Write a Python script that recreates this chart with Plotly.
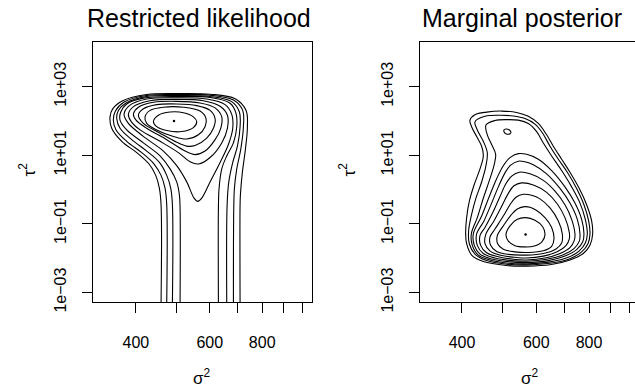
import plotly.graph_objects as go

W, H = 635, 391

# ---------------- Restricted likelihood: contour lines (sigma^2, tau^2) ----------------
# open contours (run off the bottom of the plot)
rl_c1_sigma2 = [459.3, 459.3, 455.1, 446.1, 430.0, 401.9, 370.1, 350.3, 347.1, 352.2, 372.1, 424.5,
                500.5, 601.0, 689.5, 732.3, 737.7, 729.6, 717.7, 709.9, 708.6, 708.6]
rl_c1_tau2 = [0.0005, 0.365, 1.09, 2.60, 5.57, 12.0, 25.6, 61.4, 132, 227, 392, 593,
              633, 606, 446, 204, 68.4, 14.9, 3.23, 0.702, 0.365, 0.0005]
rl_c2_sigma2 = [473.8, 473.8, 469.5, 459.3, 442.0, 413.0, 380.4, 358.8, 353.5, 357.5, 374.9, 424.5,
                500.5, 601.0, 683.2, 718.9, 721.7, 711.2, 695.8, 687.0, 684.5, 683.2]
rl_c2_tau2 = [0.0005, 0.365, 1.09, 2.60, 5.57, 12.0, 25.6, 55.0, 106, 195, 359, 555,
              593, 567, 409, 204, 68.4, 14.9, 4.02, 1.09, 0.294, 0.0005]
rl_c3_sigma2 = [488.8, 488.8, 484.4, 473.8, 455.1, 424.5, 391.0, 366.7, 360.1, 363.4, 379.0, 424.5,
                500.5, 601.0, 677.0, 706.0, 708.6, 698.4, 680.7, 666.1, 660.0, 658.6]
rl_c3_tau2 = [0.0005, 0.365, 1.09, 2.60, 6.22, 13.3, 28.6, 61.4, 118, 204, 336, 520,
              555, 520, 367, 183, 68.4, 18.5, 6.22, 1.68, 0.365, 0.0005]
rl_c4_sigma2 = [509.8, 509.8, 507.9, 500.5, 482.6, 456.8, 416.8, 380.4, 366.7, 368.1, 380.4, 416.8,
                500.5, 601.0, 670.8, 693.3, 695.8, 683.2, 658.6, 640.8, 631.5, 629.2, 629.2]
rl_c4_tau2 = [0.0005, 0.294, 0.702, 1.68, 4.02, 9.61, 23.0, 55.0, 106, 183, 315, 466,
              520, 487, 329, 164, 68.4, 23.0, 9.61, 4.02, 1.09, 0.294, 0.0005]
# closed contours
rl_c5_sigma2 = [374.9, 386.0, 424.5, 500.5, 590.1, 652.6, 676.9, 680.7, 664.7, 635.0, 601.0, 574.2,
                561.7, 550.5, 528.8, 500.5, 465.2, 416.8, 383.9]
rl_c5_tau2 = [157, 282, 437, 476, 437, 301, 157, 61.4, 20.6, 6.22, 1.68, 0.565,
              0.454, 0.565, 1.68, 5.00, 13.3, 35.6, 85.1]
rl_c6_sigma2 = [383.9, 394.6, 432.4, 500.5, 579.5, 635.0, 661.0, 661.0, 640.8, 601.0, 563.8, 538.5,
                505.1, 456.8, 409.3, 388.8]
rl_c6_tau2 = [157, 264, 392, 427, 392, 270, 147, 61.4, 23.0, 8.62, 5.57, 6.49,
              12.0, 25.6, 55.0, 101]
rl_c7_sigma2 = [394.6, 405.6, 440.4, 500.5, 569.0, 617.8, 640.8, 637.3, 617.8, 584.8, 553.5, 524.0,
                473.8, 424.5, 400.4]
rl_c7_tau2 = [157, 253, 351, 375, 336, 242, 132, 61.4, 28.6, 13.3, 10.5, 13.3,
              28.6, 61.4, 106]
rl_c8_sigma2 = [405.6, 416.8, 448.5, 500.5, 558.6, 601.0, 617.8, 612.1, 590.1, 553.5, 528.8, 500.5,
                456.8, 416.8]
rl_c8_tau2 = [147, 227, 301, 315, 282, 204, 118, 61.4, 31.9, 19.3, 18.5, 24.0,
              44.3, 85.1]
rl_c9_sigma2 = [420.6, 432.4, 465.2, 519.2, 569.0, 587.9, 584.8, 563.8, 528.8, 491.5, 448.5, 424.5]
rl_c9_tau2 = [132, 204, 253, 253, 195, 118, 68.4, 39.7, 29.9, 35.6, 55.0, 85.1]
rl_c10_sigma2 = [440.4, 452.6, 482.6, 519.2, 548.5, 558.6, 548.5, 514.5, 473.8, 448.5]
rl_c10_tau2 = [94.9, 147, 183, 175, 132, 94.9, 64.1, 49.3, 52.7, 68.4]
rl_mode_sigma2 = [493]
rl_mode_tau2 = [101]

# ---------------- Marginal posterior: contour lines (sigma^2, tau^2) ----------------
mp_c1_sigma2 = [417.8, 421.6, 433.3, 445.3, 449.4, 441.3, 427.1, 416.3, 410.3, 408.1, 410.3, 421.6,
                449.4, 510.4, 569.3, 646.6, 721.1, 775.5, 804.3, 816.1, 811.6, 789.8, 758.8, 721.1,
                689.1, 658.5, 634.9, 606.7, 574.5, 539.0, 496.7, 457.6, 429.4]
mp_c1_tau2 = [106, 68.3, 35.5, 18.4, 9.58, 4.00, 1.34, 0.451, 0.152, 0.0509, 0.0264, 0.0123,
              0.00796, 0.00613, 0.00587, 0.00640, 0.00888, 0.0137, 0.0237, 0.0509, 0.122, 0.363, 1.08, 3.22,
              7.70, 18.4, 39.6, 84.9, 137, 178, 195, 182, 153]
mp_c2_sigma2 = [429.4, 434.9, 449.4, 459.3, 455.9, 445.3, 431.7, 421.6, 414.8, 416.3, 429.4, 457.6,
                510.4, 569.3, 646.6, 721.1, 768.5, 795.6, 804.3, 798.5, 778.3, 747.8, 710.7, 676.7,
                646.6, 621.3, 595.8, 564.2, 529.3, 492.2, 453.5]
mp_c2_tau2 = [94.7, 54.9, 25.6, 11.9, 4.98, 1.67, 0.561, 0.188, 0.0633, 0.0264, 0.0132, 0.00850,
              0.00668, 0.00640, 0.00714, 0.00969, 0.0153, 0.0264, 0.0509, 0.122, 0.363, 1.08, 3.22, 7.70,
              18.4, 44.1, 81.3, 118, 140, 147, 137]
mp_c3_sigma2 = [455.9, 459.3, 470.3, 480.7, 477.2, 466.0, 449.4, 434.9, 420.9, 423.2, 437.3, 466.0,
                515.1, 569.3, 646.6, 714.6, 758.8, 784.0, 792.7, 784.0, 761.6, 727.7, 689.1, 652.5,
                623.5, 601.2, 574.5, 544.0, 510.4, 479.0]
mp_c3_tau2 = [76.1, 39.6, 20.6, 10.7, 5.55, 2.08, 0.561, 0.152, 0.0509, 0.0237, 0.0123, 0.00888,
              0.00714, 0.00683, 0.00779, 0.0106, 0.0164, 0.0276, 0.0509, 0.136, 0.404, 1.20, 3.59, 9.58,
              22.9, 49.2, 84.9, 106, 110, 103]
mp_upper_sigma2 = [503.0, 508.6, 517.9, 522.6, 519.8, 512.3, 504.9]
mp_upper_tau2 = [54.9, 58.6, 54.9, 47.1, 42.3, 41.3, 45.1]
mp_c4_sigma2 = [544.0, 519.8, 501.2, 483.3, 464.3, 445.3, 425.5, 427.8, 441.3, 470.3, 519.8, 569.3,
                640.7, 701.7, 747.8, 772.7, 778.3, 768.5, 741.0, 701.7, 652.5, 606.7, 569.3]
mp_c4_tau2 = [11.2, 8.59, 4.98, 2.08, 0.626, 0.169, 0.0509, 0.0237, 0.0132, 0.00948, 0.00779, 0.00746,
              0.00850, 0.0115, 0.0178, 0.0295, 0.0509, 0.136, 0.404, 1.20, 3.59, 7.70, 10.7]
mp_c5_sigma2 = [544.0, 521.7, 505.8, 487.8, 470.3, 451.0, 433.3, 434.9, 449.4, 479.0, 524.6, 569.3,
                634.9, 695.3, 737.0, 758.8, 761.6, 750.5, 721.1, 682.9, 634.9, 590.4, 564.2]
mp_c5_tau2 = [6.75, 5.20, 3.08, 1.20, 0.404, 0.122, 0.0509, 0.0237, 0.0137, 0.0101, 0.00850, 0.00814,
              0.00928, 0.0126, 0.0191, 0.0315, 0.0509, 0.136, 0.404, 1.08, 2.88, 5.31, 6.47]
mp_c6_sigma2 = [547.0, 524.6, 508.6, 492.2, 472.9, 453.5, 441.3, 442.9, 457.6, 487.8, 529.3, 569.3,
                629.2, 682.9, 721.1, 738.3, 741.0, 727.7, 701.7, 664.5, 623.5, 579.7]
mp_c6_tau2 = [3.22, 2.47, 1.50, 0.626, 0.210, 0.0787, 0.0456, 0.0237, 0.0144, 0.0110, 0.00928, 0.00888,
              0.0101, 0.0137, 0.0203, 0.0329, 0.0509, 0.136, 0.363, 0.907, 1.86, 2.88]
mp_c7_sigma2 = [554.0, 531.2, 515.1, 496.7, 476.3, 455.9, 453.5, 466.0, 494.0, 534.1, 569.3, 623.5,
                674.3, 705.5, 718.5, 718.5, 701.7, 673.1, 634.9, 592.6]
mp_c7_tau2 = [1.57, 1.29, 0.778, 0.325, 0.122, 0.0509, 0.0264, 0.0164, 0.0121, 0.0106, 0.0101, 0.0115,
              0.0157, 0.0232, 0.0367, 0.0567, 0.152, 0.379, 0.831, 1.34]
mp_c8_sigma2 = [559.0, 537.1, 519.8, 501.2, 479.0, 466.0, 467.7, 483.3, 515.1, 569.3, 623.5, 668.2,
                689.1, 691.6, 676.7, 646.6, 612.3, 585.0]
mp_c8_tau2 = [0.729, 0.599, 0.363, 0.169, 0.0706, 0.0409, 0.0237, 0.0157, 0.0129, 0.0123, 0.0137, 0.0186,
              0.0276, 0.0509, 0.122, 0.292, 0.537, 0.683]
mp_c9_sigma2 = [564.2, 541.0, 522.6, 501.2, 485.1, 486.0, 501.2, 534.1, 574.5, 623.5, 652.5, 660.9,
                652.5, 629.2, 601.2, 579.7]
mp_c9_tau2 = [0.318, 0.273, 0.180, 0.0878, 0.0456, 0.0264, 0.0182, 0.0153, 0.0147, 0.0164, 0.0222, 0.0367,
              0.0787, 0.152, 0.245, 0.305]
mp_c10_sigma2 = [508.6, 519.8, 541.0, 566.2, 595.8, 621.3, 629.2, 617.9, 590.4, 564.2, 534.1, 515.1]
mp_c10_tau2 = [0.0487, 0.0878, 0.136, 0.152, 0.127, 0.0822, 0.0487, 0.0295, 0.0222, 0.0213, 0.0232, 0.0315]
mp_mode_sigma2 = [566]
mp_mode_tau2 = [0.0487]

# ---------------- axes ----------------
panel_titles = ["Restricted likelihood", "Marginal posterior"]
x_tick_vals = [400, 500, 600, 700, 800, 900, 1000]
x_tick_text = ["400", "", "600", "", "800", "", ""]
y_tick_vals = [1e-3, 1e-1, 1e1, 1e3]
y_tick_text = ["1e\u221203", "1e\u221201", "1e+01", "1e+03"]

rl_open = [(rl_c1_sigma2, rl_c1_tau2), (rl_c2_sigma2, rl_c2_tau2),
           (rl_c3_sigma2, rl_c3_tau2), (rl_c4_sigma2, rl_c4_tau2)]
rl_closed = [(rl_c5_sigma2, rl_c5_tau2), (rl_c6_sigma2, rl_c6_tau2), (rl_c7_sigma2, rl_c7_tau2),
             (rl_c8_sigma2, rl_c8_tau2), (rl_c9_sigma2, rl_c9_tau2), (rl_c10_sigma2, rl_c10_tau2)]
mp_closed = [(mp_c1_sigma2, mp_c1_tau2), (mp_c2_sigma2, mp_c2_tau2), (mp_c3_sigma2, mp_c3_tau2),
             (mp_upper_sigma2, mp_upper_tau2), (mp_c4_sigma2, mp_c4_tau2), (mp_c5_sigma2, mp_c5_tau2),
             (mp_c6_sigma2, mp_c6_tau2), (mp_c7_sigma2, mp_c7_tau2), (mp_c8_sigma2, mp_c8_tau2),
             (mp_c9_sigma2, mp_c9_tau2), (mp_c10_sigma2, mp_c10_tau2)]

LINE = dict(color="black", width=1.1, shape="spline", smoothing=1.0)
fig = go.Figure()


def add_line(xs, ys, xa, ya, closed):
    if closed:
        xs = list(xs) + [xs[0]]
        ys = list(ys) + [ys[0]]
    fig.add_trace(go.Scatter(x=xs, y=ys, mode="lines", line=LINE, xaxis=xa, yaxis=ya,
                             hoverinfo="skip", showlegend=False))


for s, t in rl_open:
    add_line(s, t, "x", "y", False)
for s, t in rl_closed:
    add_line(s, t, "x", "y", True)
for s, t in mp_closed:
    add_line(s, t, "x2", "y2", True)

fig.add_trace(go.Scatter(x=rl_mode_sigma2, y=rl_mode_tau2, mode="markers", xaxis="x", yaxis="y",
                         marker=dict(color="black", size=2.5), hoverinfo="skip", showlegend=False))
fig.add_trace(go.Scatter(x=mp_mode_sigma2, y=mp_mode_tau2, mode="markers", xaxis="x2", yaxis="y2",
                         marker=dict(color="black", size=2.5), hoverinfo="skip", showlegend=False))

FONT = "Liberation Sans, Arial, Helvetica, sans-serif"


def px_x(p):
    return p / W


def px_y(p):
    return 1 - p / H


ydom = [px_y(310), px_y(42.7)]
common_x = dict(type="log", tickvals=x_tick_vals, ticktext=x_tick_text, ticks="outside", ticklen=10,
                tickwidth=1, tickcolor="black", showline=True, linecolor="black", linewidth=1,
                showgrid=False, zeroline=False, mirror=True, ticklabelstandoff=16,
                tickfont=dict(family=FONT, size=16, color="black"))
common_y = dict(type="log", range=[-3.28, 4.316], tickvals=y_tick_vals, ticktext=y_tick_text,
                tickangle=-90, ticks="outside", ticklen=10, tickwidth=1, tickcolor="black",
                showline=True, linecolor="black", linewidth=1, showgrid=False, zeroline=False,
                ticklabelstandoff=10,
                tickfont=dict(family=FONT, size=16, color="black"), domain=ydom)

fig.update_layout(
    width=W, height=H, margin=dict(l=0, r=0, t=0, b=0),
    paper_bgcolor="white", plot_bgcolor="white", showlegend=False,
    xaxis=dict(common_x, domain=[px_x(93.3), px_x(311.7)], range=[2.5006, 3.0211], anchor="y"),
    yaxis=dict(common_y, anchor="x", mirror=True),
    xaxis2=dict(common_x, domain=[px_x(420.3), 1.0], range=[2.5033, 3.0121], anchor="y2"),
    yaxis2=dict(common_y, anchor="x2", mirror=False),
)

ann = []
# panel titles
for title, cx in zip(panel_titles, [199.5, 521.5]):
    ann.append(dict(text=title, x=px_x(cx), y=px_y(18.5), xref="paper", yref="paper",
                    xanchor="center", yanchor="middle", showarrow=False,
                    font=dict(family=FONT, size=25, color="black")))
# axis titles
for cx in [202, 530]:
    ann.append(dict(text="\u03c3<sup>2</sup>", x=px_x(cx), y=px_y(387), xref="paper", yref="paper",
                    xanchor="center", yanchor="middle", showarrow=False, borderpad=0,
                    font=dict(family=FONT, size=17, color="black")))
for cx in [27, 347]:
    ann.append(dict(text="\u03c4<sup>2</sup>", x=px_x(cx), y=px_y(174), xref="paper", yref="paper",
                    xanchor="center", yanchor="middle", showarrow=False, textangle=-90,
                    font=dict(family=FONT, size=17, color="black")))
fig.update_layout(annotations=ann)

fig.write_html("out.html")
